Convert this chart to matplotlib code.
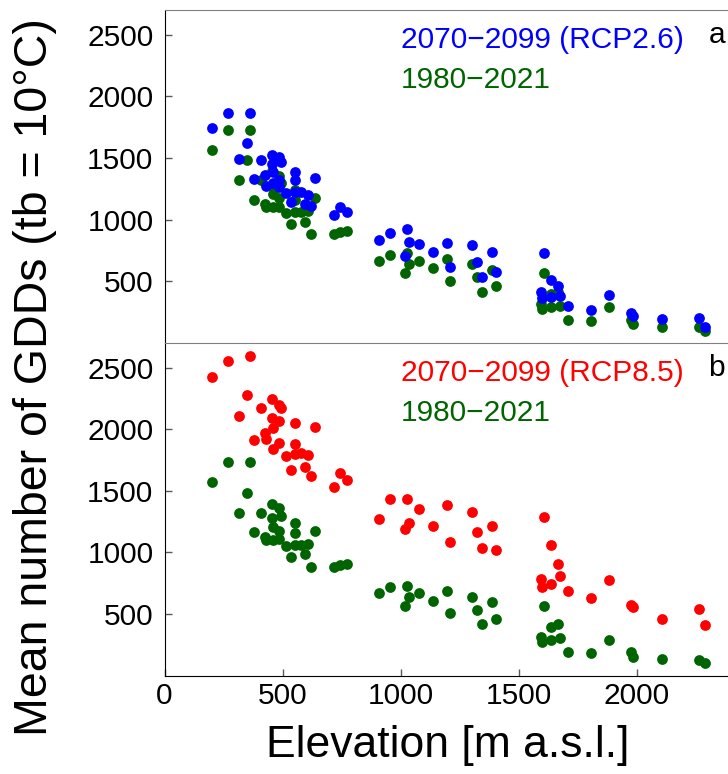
import matplotlib
matplotlib.use("Agg")
import matplotlib.pyplot as plt

plt.rcParams["font.family"] = ["Liberation Sans", "DejaVu Sans"]

# station elevations (m a.s.l.) and mean GDDs (tb = 10 C)
elev = [200, 270, 364, 350, 314, 407, 455, 484, 495, 455,
        554, 638, 378, 459, 487, 554, 424, 431, 459, 487,
        515, 551, 579, 610, 537, 596, 621, 716, 744, 774,
        910, 956, 1027, 1035, 1017, 1078, 1137, 1198, 1208, 1302,
        1325, 1346, 1387, 1405,
        1607, 1596, 1599, 1638, 1638, 1667, 1674, 1710, 1808, 1883,
        1977, 1984, 2109, 2263, 2288]

gdd_past = [1568, 1730, 1730, 1482, 1318, 1320, 1391, 1358, 1297, 1278,
            1241, 1176, 1163, 1209, 1176, 1160, 1127, 1100, 1100, 1106,
            1052, 1060, 1060, 1068, 963, 985, 885, 884, 898, 906,
            668, 717, 730, 640, 567, 668, 608, 684, 506, 640,
            532, 416, 595, 462,
            567, 316, 275, 397, 289, 416, 303, 189, 181, 289,
            189, 153, 132, 127, 100]

gdd_rcp26 = [1746, 1863, 1863, 1625, 1490, 1484, 1525, 1508, 1470, 1452,
             1390, 1341, 1326, 1390, 1322, 1322, 1363, 1273, 1300, 1268,
             1214, 1227, 1227, 1200, 1146, 1125, 1111, 1038, 1105, 1060,
             835, 895, 922, 817, 708, 803, 735, 814, 614, 795,
             654, 538, 741, 573,
             732, 411, 362, 511, 376, 462, 381, 303, 268, 389,
             241, 222, 192, 205, 132]

gdd_rcp85 = [2421, 2553, 2595, 2275, 2108, 2170, 2245, 2196, 2169, 2093,
             2048, 2020, 1912, 2007, 2069, 1877, 1966, 1918, 1836, 1886,
             1783, 1796, 1804, 1788, 1669, 1691, 1620, 1533, 1641, 1587,
             1271, 1431, 1431, 1236, 1191, 1352, 1217, 1385, 1082, 1325,
             1163, 1038, 1217, 1019,
             1285, 784, 722, 1060, 744, 906, 811, 689, 627, 776,
             573, 560, 459, 541, 411]

yticks = [500, 1000, 1500, 2000, 2500]
xticks = [0, 500, 1000, 1500, 2000]

green = "#006400"
blue = "#0000FF"
red = "#FF0000"

W, H = 728, 774
fig = plt.figure(figsize=(W / 100, H / 100), dpi=100)

left = 164.5 / W
width = 566.5 / W
ax_a = fig.add_axes([left, 1 - 343 / H, width, 333 / H])
ax_b = fig.add_axes([left, 1 - 675.5 / H, width, 332.5 / H])

panels = [(ax_a, gdd_rcp26, blue, "2070\u22122099 (RCP2.6)", "a"),
          (ax_b, gdd_rcp85, red, "2070\u22122099 (RCP8.5)", "b")]

for ax, fut, col, lab, letter in panels:
    ax.scatter(elev, gdd_past, s=60, color=green, linewidths=0, zorder=2)
    ax.scatter(elev, fut, s=60, color=col, linewidths=0, zorder=3)
    ax.set_xlim(0, 2400)
    ax.set_ylim(0, 2700)
    ax.set_yticks(yticks)
    ax.set_xticks(xticks)
    ax.tick_params(direction="in", length=5, width=1, color="0.35",
                   labelsize=21.5, pad=8)
    ax.spines["right"].set_visible(False)
    ax.spines["top"].set_color("0.5")
    ax.spines["left"].set_color("black")
    ax.spines["bottom"].set_color("black")
    ax.text(1000, 2390, lab, color=col, fontsize=21.5, va="baseline")
    ax.text(1000, 2070, "1980\u22122021", color=green, fontsize=21.5, va="baseline")
    ax.text(2305, 2430, letter, color="black", fontsize=21.5, va="baseline")

ax_a.spines["bottom"].set_visible(False)
ax_a.tick_params(axis="x", bottom=False, labelbottom=False)
ax_b.tick_params(axis="x", pad=5)

fig.text(448 / W, 1 - 745 / H, "Elevation [m a.s.l.]", fontsize=32,
         ha="center", va="center")
fig.text(35 / W, 1 - 377 / H, "Mean number of GDDs (tb = 10\u00b0C)", fontsize=33.5,
         rotation=90, ha="center", va="center")

fig.savefig("out.png", dpi=100)
